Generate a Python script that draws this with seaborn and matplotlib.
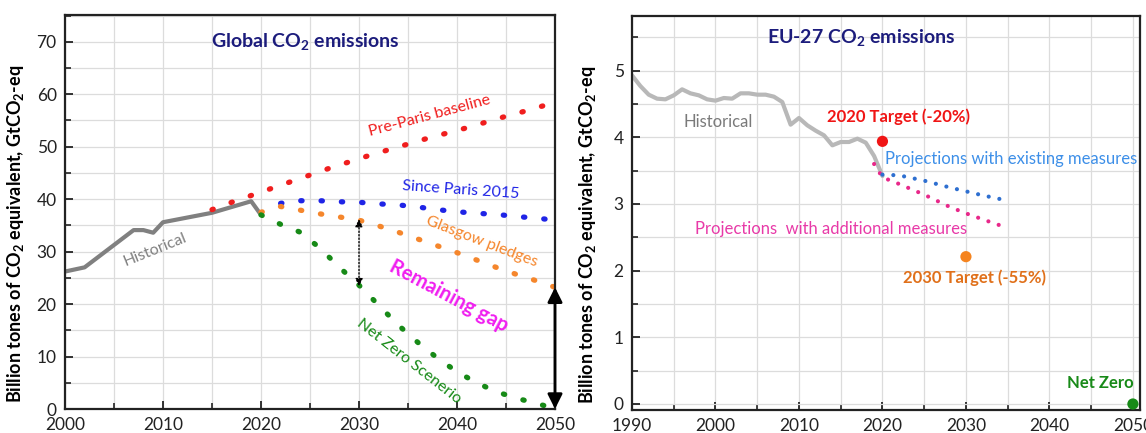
import matplotlib
matplotlib.use("Agg")
import matplotlib.pyplot as plt
from matplotlib.ticker import MultipleLocator
import numpy as np
import pandas as pd
import seaborn as sns

# ---- Global data (GtCO2-eq) ----
hist_years = [2000, 2002, 2007, 2008, 2009, 2010, 2015, 2019, 2020]
hist_vals = [26.2, 27.0, 34.1, 34.1, 33.6, 35.6, 37.4, 39.6, 37.0]

prep_years = [2015, 2017, 2019, 2021, 2023, 2025, 2027, 2029, 2031, 2033, 2035,
              2037, 2039, 2041, 2043, 2045, 2047, 2049]
prep_vals = [38.0, 39.4, 40.7, 42.0, 43.3, 44.6, 45.9, 47.1, 48.3, 49.4, 50.5,
             51.6, 52.6, 53.6, 54.7, 55.8, 56.8, 57.9]

paris_years = [2022, 2024, 2026, 2028, 2030, 2032, 2034, 2036, 2038, 2040,
               2042, 2044, 2046, 2048, 2049]
paris_vals = [39.2, 39.7, 39.7, 39.5, 39.4, 39.1, 38.9, 38.5, 38.0, 37.6,
              37.3, 37.1, 36.7, 36.4, 36.2]

glas_years = [2020, 2022, 2024, 2026, 2028, 2030, 2032, 2034, 2036, 2038,
              2040, 2042, 2044, 2046, 2048, 2050]
glas_vals = [37.5, 38.6, 37.9, 37.2, 36.6, 36.0, 34.9, 33.7, 32.4, 31.1,
             29.8, 28.4, 27.0, 25.7, 24.5, 23.2]

nz_years = [2020, 2022, 2024, 2026, 2028, 2030, 2032, 2034, 2036, 2038,
            2040, 2042, 2044, 2046, 2048, 2049]
nz_vals = [37.0, 35.2, 33.7, 30.7, 27.0, 23.6, 19.8, 16.0, 12.7, 9.7,
           7.1, 5.0, 3.3, 2.1, 1.1, 0.6]

# ---- EU-27 data (GtCO2-eq) ----
eu_years = list(range(1990, 2021))
eu_vals = [4.93, 4.77, 4.64, 4.58, 4.57, 4.63, 4.72, 4.66, 4.63, 4.57, 4.55,
           4.59, 4.58, 4.66, 4.66, 4.64, 4.64, 4.61, 4.53, 4.19, 4.29, 4.18,
           4.10, 4.03, 3.88, 3.93, 3.93, 3.98, 3.92, 3.72, 3.42]

exist_years = [2020, 2022, 2025, 2028, 2030, 2032, 2035]
exist_vals = [3.44, 3.43, 3.35, 3.25, 3.19, 3.13, 3.05]

add_years = [2019, 2020, 2022, 2025, 2028, 2030, 2032, 2035]
add_vals = [3.60, 3.40, 3.30, 3.14, 2.96, 2.86, 2.77, 2.64]

target_years = [2020, 2030, 2050]
target_vals = [3.94, 2.21, 0.0]
target_colors = ["#f01515", "#f5841f", "#188a18"]

sns.set_theme(style="whitegrid")
plt.rcParams["font.family"] = ["Lato", "DejaVu Sans"]
plt.rcParams["mathtext.fontset"] = "custom"
plt.rcParams["mathtext.rm"] = "Lato"
plt.rcParams["mathtext.bf"] = "Lato:bold"

W, H = 1146, 433
fig = plt.figure(figsize=(W / 100, H / 100), dpi=100, facecolor="white")
ax1 = fig.add_axes([65 / W, 1 - 409 / H, 490 / W, 394 / H])
ax2 = fig.add_axes([632 / W, 1 - 410 / H, 508 / W, 394 / H])

navy = "#1c1c7c"
ylab = "Billion tones of CO$_\\mathbf{2}$ equivalent, GtCO$_\\mathbf{2}$-eq"


def style_axes(ax, xmaj, xmin, ymaj, ymin):
    ax.set_facecolor("white")
    ax.xaxis.set_major_locator(MultipleLocator(xmaj))
    ax.xaxis.set_minor_locator(MultipleLocator(xmin))
    ax.yaxis.set_major_locator(MultipleLocator(ymaj))
    ax.yaxis.set_minor_locator(MultipleLocator(ymin))
    ax.grid(True, which="both", color="#dcdcdc", lw=0.9)
    ax.tick_params(which="major", direction="in", length=6, width=1.3,
                   labelsize=12.5, color="#222222", labelcolor="#222222",
                   bottom=True, left=True, pad=6)
    ax.tick_params(which="minor", direction="in", length=4, width=1.2,
                   color="#222222", bottom=True, left=True)
    for s in ax.spines.values():
        s.set_color("#222222")
        s.set_linewidth(1.6)
    ax.set_axisbelow(True)


# ---------------- Left: Global ----------------
dot_l = dict(lw=3.8, linestyle=(0, (0.25, 3.6)), dash_capstyle="round")

sns.lineplot(x=hist_years, y=hist_vals, ax=ax1, color="#808080", lw=3)
sns.lineplot(x=prep_years, y=prep_vals, ax=ax1, color="#f01e1e", **dot_l)
sns.lineplot(x=paris_years, y=paris_vals, ax=ax1, color="#1f24e6", **dot_l)
sns.lineplot(x=glas_years, y=glas_vals, ax=ax1, color="#f5862c", **dot_l)
sns.lineplot(x=nz_years, y=nz_vals, ax=ax1, color="#178a17", **dot_l)

ax1.set_xlim(2000, 2050)
ax1.set_ylim(0, 75.1)
style_axes(ax1, 10, 5, 10, 5)
ax1.set_ylabel(ylab, fontsize=13, fontweight="bold", color="black")
ax1.yaxis.set_label_coords(-0.08, 0.445)
ax1.set_xlabel("")

ax1.annotate("", xy=(2030, 23.4), xytext=(2030, 36.2),
             arrowprops=dict(arrowstyle="<|-|>", color="black", lw=1,
                             linestyle=(0, (1, 1.5)), mutation_scale=11,
                             shrinkA=0, shrinkB=0))
ax1.annotate("", xy=(2050, 0), xytext=(2050, 23.2), annotation_clip=False,
             arrowprops=dict(arrowstyle="<|-|>", color="black", lw=2,
                             mutation_scale=22, shrinkA=0, shrinkB=0))

ax1.text(2024.5, 69.8, "Global CO$_\\mathbf{2}$ emissions", color=navy,
         fontsize=14, fontweight="bold", ha="center", va="center")
ax1.text(2037.2, 55.8, "Pre-Paris baseline", color="#f01e1e", fontsize=11.5,
         rotation=15, ha="center", va="center")
ax1.text(2040.4, 41.8, "Since Paris 2015", color="#1f24e6", fontsize=11.5,
         rotation=-4, ha="center", va="center")
ax1.text(2042.5, 31.9, "Glasgow pledges", color="#f5862c", fontsize=11.5,
         rotation=-21, ha="center", va="center")
ax1.text(2039.2, 21.5, "Remaining gap", color="#f01ef0", fontsize=14.5,
         fontweight="bold", rotation=-28, ha="center", va="center")
ax1.text(2035.1, 9.0, "Net Zero Scenerio", color="#178a17", fontsize=11.5,
         rotation=-38, ha="center", va="center")
ax1.text(2009.2, 30.3, "Historical", color="#808080", fontsize=11.5,
         rotation=22, ha="center", va="center")

# ---------------- Right: EU-27 ----------------
dot_r = dict(lw=3, linestyle=(0, (0.01, 2.6)), dash_capstyle="round")

sns.lineplot(x=eu_years, y=eu_vals, ax=ax2, color="#b8b8b8", lw=3)
sns.lineplot(x=add_years, y=add_vals, ax=ax2, color="#e8288a", **dot_r)
sns.lineplot(x=exist_years, y=exist_vals, ax=ax2, color="#2e6fd0", **dot_r)
tdf = pd.DataFrame({"year": target_years, "val": target_vals,
                    "name": ["2020", "2030", "2050"]})
sns.scatterplot(data=tdf, x="year", y="val", hue="name", palette=target_colors,
                s=65, edgecolor="none", legend=False, ax=ax2, clip_on=False,
                zorder=5)

ax2.set_xlim(1990, 2050.85)
ax2.set_ylim(-0.09, 5.82)
style_axes(ax2, 10, 5, 1, 0.5)
ax2.set_ylabel(ylab, fontsize=13, fontweight="bold", color="black")
ax2.yaxis.set_label_coords(-0.067, 0.445)
ax2.set_xlabel("")

ax2.text(2017.5, 5.49, "EU-27 CO$_\\mathbf{2}$ emissions", color=navy,
         fontsize=14, fontweight="bold", ha="center", va="center")
ax2.text(2000.3, 4.23, "Historical", color="#7a7a7a", fontsize=12,
         ha="center", va="center")
ax2.text(2021.9, 4.31, "2020 Target (-20%)", color="#f01515", fontsize=12,
         fontweight="bold", ha="center", va="center")
ax2.text(2020.3, 3.67, "Projections with existing measures", color="#3d8fe8",
         fontsize=12, ha="left", va="center")
ax2.text(2013.8, 2.63, "Projections  with additional measures", color="#e83aa8",
         fontsize=12, ha="center", va="center")
ax2.text(2031.0, 1.90, "2030 Target (-55%)", color="#e0701a", fontsize=12,
         fontweight="bold", ha="center", va="center")
ax2.text(2046.1, 0.32, "Net Zero", color="#188a18", fontsize=12,
         fontweight="bold", ha="center", va="center")

fig.savefig("out.png", dpi=100, facecolor="white")
